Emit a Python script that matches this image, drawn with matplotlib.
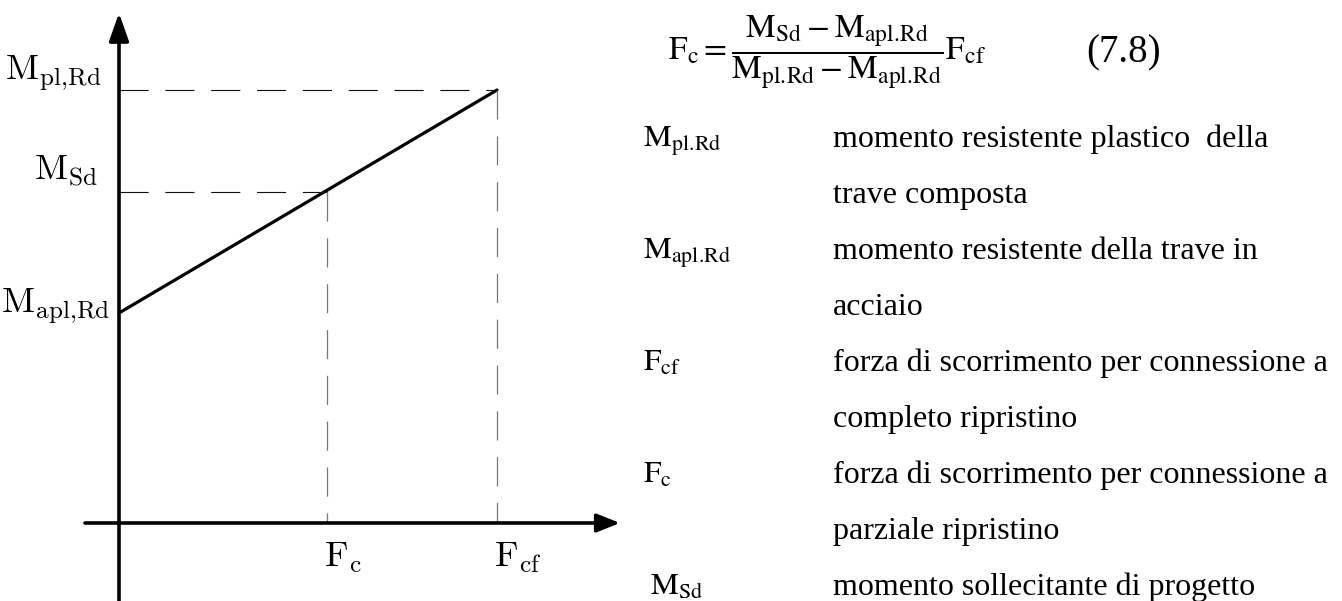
import matplotlib.pyplot as plt

plt.rcParams['lines.scale_dashes'] = False

# diagramma momento - forza di scorrimento (valori normalizzati)
F_c = 0.55
F_cf = 1.0
M_apl = 0.485
M_sd = 0.765
M_pl = 1.0

F_vals = [F_c, F_cf]
F_labels = [r'$\mathrm{F}_\mathrm{c}$', r'$\mathrm{F}_\mathrm{cf}$']
M_vals = [M_pl, M_sd, M_apl]
M_labels = [r'$\mathrm{M}_\mathrm{pl{,}Rd}$', r'$\mathrm{M}_\mathrm{Sd}$',
            r'$\mathrm{M}_\mathrm{apl{,}Rd}$']

formula = (r'$\mathrm{F}_\mathrm{c} = \dfrac{\mathrm{M}_\mathrm{Sd} - \mathrm{M}_\mathrm{apl.\!Rd}}'
           r'{\mathrm{M}_\mathrm{pl.\!Rd} - \mathrm{M}_\mathrm{apl.\!Rd}}\mathrm{F}_\mathrm{cf}$')
eq_number = '(7.8)'

simboli = [r'$\mathrm{M}_\mathrm{pl.\!Rd}$', '', r'$\mathrm{M}_\mathrm{apl.\!Rd}$', '',
           r'$\mathrm{F}_\mathrm{cf}$', '', r'$\mathrm{F}_\mathrm{c}$', '',
           r'$\ \mathrm{M}_\mathrm{Sd}$']
descrizioni = ['momento resistente plastico  della', 'trave composta',
               'momento resistente della trave in', 'acciaio',
               'forza di scorrimento per connessione a', 'completo ripristino',
               'forza di scorrimento per connessione a', 'parziale ripristino',
               'momento sollecitante di progetto']

W, H = 1342, 601
fig = plt.figure(figsize=(W / 100, H / 100), dpi=100)

# assi del diagramma: origine a (119, 523) px, 378 px per F_cf, 433 px per M_pl
ax = fig.add_axes([0, 0, 640 / W, 1])
ax.set_xlim(-119 / 378, 521 / 378)
ax.set_ylim(-78 / 433, 523 / 433)
ax.axis('off')

ax.annotate('', xy=(0, 510 / 433), xytext=(0, -0.2),
            arrowprops=dict(arrowstyle='-|>,head_length=0.85,head_width=0.3',
                            lw=2.6, color='k', mutation_scale=20, shrinkA=0, shrinkB=0))
ax.annotate('', xy=(501 / 378, 0), xytext=(-34 / 378, 0),
            arrowprops=dict(arrowstyle='-|>,head_length=0.7,head_width=0.28',
                            lw=2.6, color='k', mutation_scale=20, shrinkA=0, shrinkB=0))

ax.plot([0, F_cf], [M_apl, M_pl], color='k', lw=2.3, solid_capstyle='round')

dash = (21, 12)
for F, M in [(F_cf, M_pl), (F_c, M_sd)]:
    ax.plot([0, F], [M, M], color='#111111', lw=0.8, dashes=dash)
    ax.plot([F, F], [M, 0], color='#777777', lw=0.9, dashes=dash)

M_offsets = [(-17, 10), (-21, 11), (-9, 0)]
for M, lab, off in zip(M_vals, M_labels, M_offsets):
    ax.annotate(lab, xy=(0, M), xytext=off, textcoords='offset pixels',
                ha='right', va='baseline', fontsize=26, math_fontfamily='cm')
for F, lab in zip(F_vals, F_labels):
    ax.annotate(lab, xy=(F, 0), xytext=(-3, -44), textcoords='offset pixels',
                ha='left', va='baseline', fontsize=26, math_fontfamily='cm')

# formula e legenda
fig.text(668 / W, 1 - 60 / H, formula, ha='left', va='baseline',
         fontsize=24, math_fontfamily='stix')
fig.text(1086 / W, 1 - 62 / H, eq_number, ha='left', va='baseline',
         fontsize=28, family='Liberation Serif')

y0, dy = 147, 56
for i, (s, d) in enumerate(zip(simboli, descrizioni)):
    y = 1 - (y0 + i * dy) / H
    if s:
        fig.text(643 / W, y, s, ha='left', va='baseline', fontsize=22.5,
                 math_fontfamily='stix')
    fig.text(833 / W, y, d, ha='left', va='baseline', fontsize=23,
             family='Liberation Serif')

fig.savefig('out.png', dpi=100, facecolor='white')
